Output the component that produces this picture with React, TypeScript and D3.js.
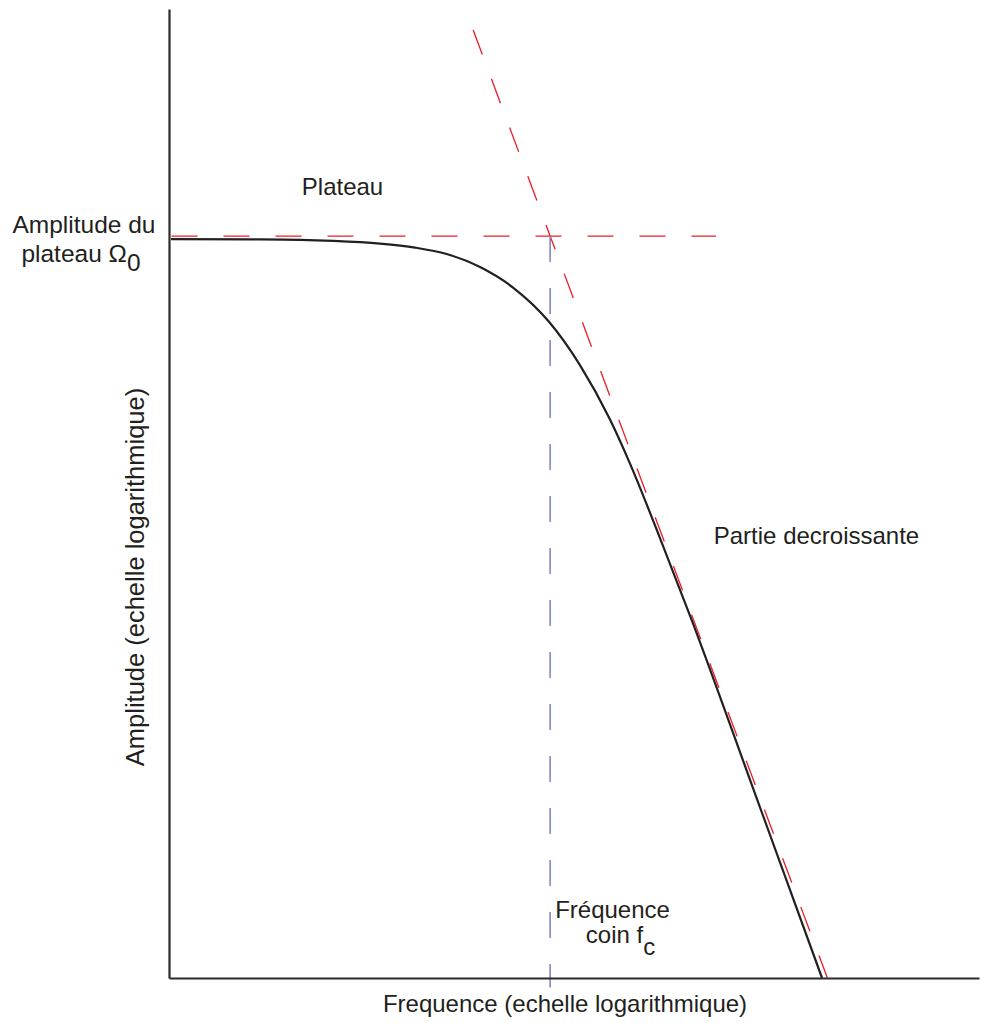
import React, { useEffect, useRef } from "react";
import * as d3 from "d3";

// ---- data (frequency and amplitude, both on log scales; corner frequency fc = 1, plateau = 1) ----
const curveFreq = [0.01343, 0.03296, 0.05818, 0.08474, 0.1445, 0.2152, 0.3085, 0.4506, 0.6559, 0.9874, 1.404, 1.976, 2.48, 3.488, 5.003, 10.51, 22.02];
const curveAmp = [0.9873, 0.9861, 0.984, 0.9798, 0.9686, 0.9523, 0.9264, 0.8765, 0.8035, 0.6947, 0.5779, 0.4585, 0.3802, 0.277, 0.1955, 0.09135, 0.0427];

const plateauFreq = [0.0135, 6.6];
const plateauAmp = [1, 1];

const slopeFreq = [0.417, 23.4];
const slopeAmp = [2.4, 0.0427];

const cornerFreq = [1, 1];
const cornerAmp = [1, 0.041];

const xDomain = [0.01312, 131.2];
const yDomain = [0.0427, 2.625];

const labels = {
  xTitle: "Frequence (echelle logarithmique)",
  yTitle: "Amplitude (echelle logarithmique)",
  plateau: "Plateau",
  plateauAmp1: "Amplitude du",
  plateauAmp2: "plateau Ω",
  plateauSub: "0",
  decreasing: "Partie decroissante",
  corner1: "Fréquence",
  corner2: "coin f",
  cornerSub: "c",
};

const W = 981;
const H = 1023;
const FONT = "'Liberation Sans', Arial, sans-serif";
const INK = "#231f20";

export default function App() {
  const xAxisRef = useRef<SVGGElement>(null);
  const yAxisRef = useRef<SVGGElement>(null);

  const x = d3.scaleLog().domain(xDomain).range([169, 979]);
  const y = d3.scaleLog().domain(yDomain).range([978, 9]);

  useEffect(() => {
    const xa = d3.axisBottom(x).tickValues([]).tickSizeOuter(0);
    const ya = d3.axisLeft(y).tickValues([]).tickSizeOuter(0);
    const gx = d3.select(xAxisRef.current!);
    gx.call(xa as any);
    gx.select(".domain").attr("stroke", "#2b2b2b").attr("stroke-width", 2.2);
    const gy = d3.select(yAxisRef.current!);
    gy.call(ya as any);
    gy.select(".domain").attr("stroke", "#2b2b2b").attr("stroke-width", 2.2);
  }, []);

  const line = d3
    .line<[number, number]>()
    .x((d) => x(d[0]))
    .y((d) => y(d[1]));

  const curvePts = curveFreq.map((f, i) => [f, curveAmp[i]] as [number, number]);
  const curve = d3
    .line<[number, number]>()
    .x((d) => x(d[0]))
    .y((d) => y(d[1]))
    .curve(d3.curveMonotoneX);

  const zip = (a: number[], b: number[]) => a.map((v, i) => [v, b[i]] as [number, number]);

  return (
    <svg
      width={W}
      height={H}
      style={{ position: "absolute", left: 0, top: 0, background: "#fff" }}
      fontFamily={FONT}
    >
      <rect width={W} height={H} fill="#fff" />
      {/* asymptotes */}
      <path d={line(zip(plateauFreq, plateauAmp))!} fill="none" stroke="#ed1c24" strokeWidth={1.3} strokeDasharray="26 26" />
      <path d={line(zip(slopeFreq, slopeAmp))!} fill="none" stroke="#ed1c24" strokeWidth={1.3} strokeDasharray="26 26" />
      <path d={line(zip(cornerFreq, cornerAmp))!} fill="none" stroke="#8389c4" strokeWidth={1.6} strokeDasharray="26 26" />
      {/* response curve */}
      <path d={curve(curvePts)!} fill="none" stroke={INK} strokeWidth={2.2} />
      {/* axes */}
      <g ref={xAxisRef} transform={`translate(0,${978})`} />
      <g ref={yAxisRef} transform={`translate(${169},0)`} />

      {/* labels */}
      <g fill={INK} fontSize={24}>
        <text x={342.5} y={195} textAnchor="middle">{labels.plateau}</text>
        <text x={84} y={233} textAnchor="middle" fontSize={24.5}>{labels.plateauAmp1}</text>
        <text x={81} y={262} textAnchor="middle" fontSize={24.5}>
          {labels.plateauAmp2}
          <tspan dy={9}>{labels.plateauSub}</tspan>
        </text>
        <text x={816.5} y={544} textAnchor="middle">{labels.decreasing}</text>
        <text x={612.5} y={918} textAnchor="middle">{labels.corner1}</text>
        <text x={620.5} y={943} textAnchor="middle">
          {labels.corner2}
          <tspan dy={12}>{labels.cornerSub}</tspan>
        </text>
        <text x={565} y={1012} textAnchor="middle">{labels.xTitle}</text>
        <text transform={`translate(144,577) rotate(-90)`} textAnchor="middle" fontSize={25.5}>{labels.yTitle}</text>
      </g>
    </svg>
  );
}
